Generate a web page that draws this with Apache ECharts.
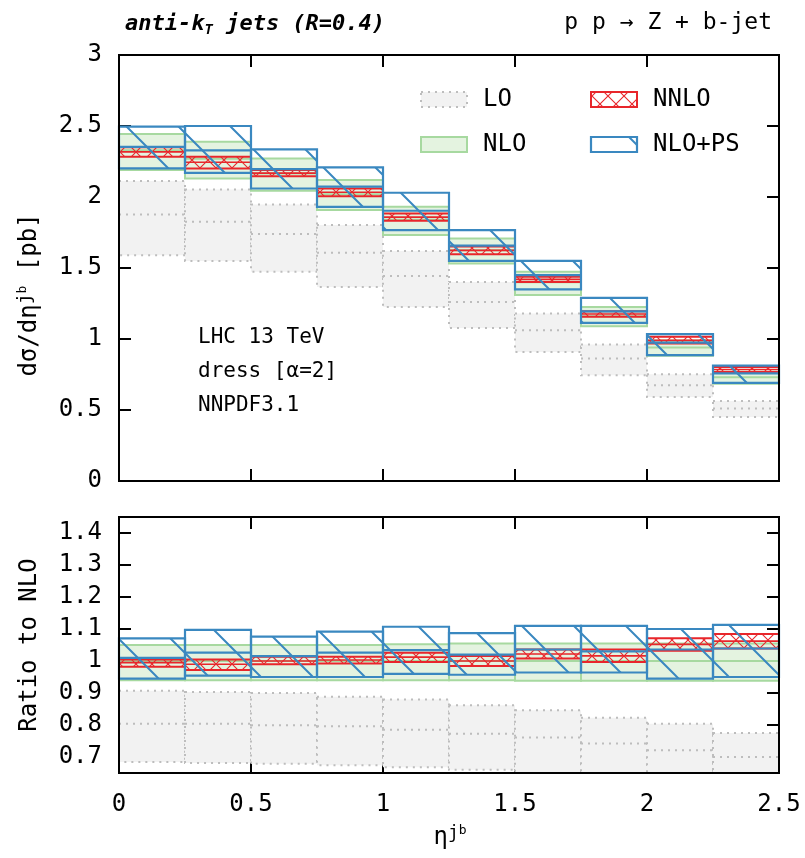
<!DOCTYPE html>
<html>
<head>
<meta charset="utf-8">
<script src="https://cdn.jsdelivr.net/npm/echarts@6/dist/echarts.min.js"></script>
<style>
html,body{margin:0;padding:0;background:#fff;}
#chart{width:805px;height:858px;}
</style>
</head>
<body>
<div id="chart"></div>
<script>
// ---- data (eta^{j_b} bins of width 0.25) ----
const binLow  = [0, 0.25, 0.5, 0.75, 1.0, 1.25, 1.5, 1.75, 2.0, 2.25];
const binHigh = [0.25, 0.5, 0.75, 1.0, 1.25, 1.5, 1.75, 2.0, 2.25, 2.5];

// top panel: dsigma/deta [pb]
const loCentral   = [1.877, 1.825, 1.739, 1.607, 1.443, 1.261, 1.062, 0.863, 0.674, 0.510];
const loLow       = [1.590, 1.550, 1.473, 1.367, 1.226, 1.078, 0.909, 0.745, 0.592, 0.451];
const loHigh      = [2.112, 2.053, 1.948, 1.802, 1.619, 1.402, 1.180, 0.961, 0.752, 0.564];
const nloCentral  = [2.330, 2.270, 2.165, 2.020, 1.840, 1.625, 1.400, 1.160, 0.940, 0.730];
const nloLow      = [2.190, 2.131, 2.044, 1.908, 1.732, 1.532, 1.309, 1.090, 0.882, 0.685];
const nloHigh     = [2.443, 2.389, 2.272, 2.119, 1.931, 1.708, 1.473, 1.226, 0.990, 0.770];
const nnloCentral = [2.318, 2.245, 2.168, 2.033, 1.858, 1.624, 1.420, 1.176, 0.990, 0.785];
const nnloLow     = [2.283, 2.200, 2.147, 2.006, 1.832, 1.596, 1.402, 1.156, 0.968, 0.768];
const nnloHigh    = [2.350, 2.283, 2.190, 2.060, 1.884, 1.652, 1.438, 1.196, 1.015, 0.803];
const psCentral   = [2.353, 2.329, 2.197, 2.073, 1.903, 1.658, 1.450, 1.195, 0.974, 0.758];
const psLow       = [2.201, 2.170, 2.060, 1.931, 1.767, 1.550, 1.349, 1.113, 0.886, 0.691];
const psHigh      = [2.495, 2.500, 2.335, 2.209, 2.030, 1.767, 1.550, 1.290, 1.034, 0.813];

// bottom panel: ratio to NLO
const rLoCentral   = [0.804, 0.804, 0.799, 0.796, 0.785, 0.773, 0.761, 0.742, 0.721, 0.700];
const rLoLow       = [0.684, 0.681, 0.679, 0.674, 0.668, 0.660, 0.650, 0.640, 0.630, 0.620];
const rLoHigh      = [0.907, 0.903, 0.900, 0.888, 0.880, 0.862, 0.846, 0.823, 0.804, 0.775];
const rNloCentral  = [1.000, 1.000, 1.000, 1.000, 1.000, 1.000, 1.000, 1.000, 1.000, 1.000];
const rNloLow      = [0.940, 0.940, 0.940, 0.940, 0.940, 0.940, 0.938, 0.938, 0.938, 0.938];
const rNloHigh     = [1.050, 1.050, 1.050, 1.050, 1.052, 1.055, 1.055, 1.055, 1.055, 1.055];
const rNnloCentral = [0.995, 0.990, 1.000, 1.003, 1.012, 1.000, 1.022, 1.016, 1.052, 1.062];
const rNnloLow     = [0.982, 0.972, 0.990, 0.992, 0.997, 0.984, 1.008, 0.997, 1.032, 1.039];
const rNnloHigh    = [1.005, 1.005, 1.013, 1.013, 1.026, 1.016, 1.036, 1.036, 1.071, 1.084];
const rPsCentral   = [1.010, 1.026, 1.015, 1.026, 1.034, 1.020, 1.036, 1.030, 1.036, 1.039];
const rPsLow       = [0.945, 0.954, 0.950, 0.950, 0.960, 0.957, 0.964, 0.964, 0.945, 0.950];
const rPsHigh      = [1.071, 1.097, 1.076, 1.092, 1.107, 1.087, 1.110, 1.110, 1.100, 1.113];

const xTicks = [0, 0.5, 1, 1.5, 2, 2.5];
const topYTicks = [0, 0.5, 1, 1.5, 2, 2.5, 3];
const ratioYTicks = [0.7, 0.8, 0.9, 1.0, 1.1, 1.2, 1.3, 1.4];

// ---- styles ----
const FONT = 'DejaVu Sans Mono';
const RED = '#e8262b', BLUE = '#3a88c0', GREEN = '#a7d9a0', GREENFILL = '#e4f3e0';
const LOFILL = '#f2f2f2', LOLINE = '#bdbdbd';

function diagCanvas(size, color, lw) {
  const c = document.createElement('canvas');
  c.width = size; c.height = size;
  const g = c.getContext('2d');
  g.strokeStyle = color; g.lineWidth = lw;
  g.beginPath();
  g.moveTo(-size, -size); g.lineTo(2 * size, 2 * size);
  g.moveTo(0, -size); g.lineTo(2 * size, size);
  g.moveTo(-size, 0); g.lineTo(size, 2 * size);
  g.stroke();
  return c;
}
function crossCanvas(size, color, lw) {
  const c = document.createElement('canvas');
  c.width = size; c.height = size;
  const g = c.getContext('2d');
  g.strokeStyle = color; g.lineWidth = lw;
  g.beginPath();
  g.moveTo(-1, -1); g.lineTo(size + 1, size + 1);
  g.moveTo(size + 1, -1); g.lineTo(-1, size + 1);
  g.stroke();
  return c;
}
const psPattern = { image: diagCanvas(52, BLUE, 2), repeat: 'repeat' };
const nnloPattern = { image: crossCanvas(16, RED, 1.1), repeat: 'repeat' };

const STY = {
  lo:   { fill: LOFILL, stroke: LOLINE, lw: 2, dash: [2, 5], cstroke: LOLINE, clw: 2, cdash: [2, 5] },
  nlo:  { fill: GREENFILL, stroke: GREEN, lw: 2, dash: null, cstroke: GREEN, clw: 2, cdash: null },
  nnlo: { fill: nnloPattern, stroke: RED, lw: 2, dash: null, cstroke: RED, clw: 1.6, cdash: null },
  ps:   { fill: psPattern, stroke: BLUE, lw: 2.2, dash: null, cstroke: BLUE, clw: 2.2, cdash: null }
};

function rows(lo, hi, c) {
  return binLow.map((x0, i) => [x0, binHigh[i], lo[i], hi[i], c[i]]);
}

function bandRenderer(s) {
  return function (params, api) {
    const x0 = api.value(0), x1 = api.value(1);
    const lo = api.value(2), hi = api.value(3), c = api.value(4);
    const p0 = api.coord([x0, hi]);
    const p1 = api.coord([x1, lo]);
    const cs = params.coordSys;
    const r = echarts.graphic.clipRectByRect(
      { x: p0[0], y: p0[1], width: p1[0] - p0[0], height: p1[1] - p0[1] },
      { x: cs.x, y: cs.y, width: cs.width, height: cs.height });
    const pc0 = api.coord([x0, c]), pc1 = api.coord([x1, c]);
    const children = [];
    if (r) {
      children.push({ type: 'rect', shape: r,
        style: { fill: s.fill, stroke: s.stroke, lineWidth: s.lw, lineDash: s.dash } });
    }
    children.push({ type: 'line',
      shape: { x1: pc0[0], y1: pc0[1], x2: pc1[0], y2: pc1[1] },
      style: { stroke: s.cstroke, lineWidth: s.clw, lineDash: s.cdash } });
    return { type: 'group', children: children };
  };
}

function band(name, key, gridIdx, lo, hi, c) {
  return {
    name: name, type: 'custom', xAxisIndex: gridIdx * 2, yAxisIndex: gridIdx * 2,
    renderItem: bandRenderer(STY[key]), data: rows(lo, hi, c),
    encode: { x: [0, 1], y: [2, 3, 4] }, silent: true, animation: false
  };
}

const tickStyle = { show: true, inside: true, length: 12, lineStyle: { color: '#000', width: 2 } };
const labelFont = { fontFamily: FONT, fontSize: 24, color: '#000' };

function xAx(grid, pos, showLabels) {
  return {
    type: 'value', gridIndex: grid, position: pos, min: 0, max: 2.5,
    axisLine: { show: false, onZero: false },
    axisTick: Object.assign({}, tickStyle, { customValues: xTicks }),
    axisLabel: Object.assign({ show: showLabels, margin: 20, customValues: xTicks,
      showMinLabel: true, showMaxLabel: true }, labelFont),
    splitLine: { show: false }
  };
}
function yAx(grid, pos, min, max, ticks, showLabels) {
  return {
    type: 'value', gridIndex: grid, position: pos, min: min, max: max,
    axisLine: { show: false, onZero: false },
    axisTick: Object.assign({}, tickStyle, { customValues: ticks }),
    axisLabel: Object.assign({ show: showLabels, margin: 17, customValues: ticks,
      showMinLabel: true, showMaxLabel: true }, labelFont),
    splitLine: { show: false }
  };
}

const chart = echarts.init(document.getElementById('chart'));

const option = {
  backgroundColor: '#fff',
  animation: false,
  grid: [
    { left: 119, right: 26, top: 55, height: 426, show: true, borderColor: '#000', borderWidth: 2, backgroundColor: 'transparent', z: 10 },
    { left: 119, right: 26, top: 517, height: 256, show: true, borderColor: '#000', borderWidth: 2, backgroundColor: 'transparent', z: 10 }
  ],
  xAxis: [
    xAx(0, 'bottom', false), xAx(0, 'top', false),
    xAx(1, 'bottom', true), xAx(1, 'top', false)
  ],
  yAxis: [
    yAx(0, 'left', 0, 3, topYTicks, true), yAx(0, 'right', 0, 3, topYTicks, false),
    yAx(1, 'left', 0.65, 1.45, ratioYTicks, true), yAx(1, 'right', 0.65, 1.45, ratioYTicks, false)
  ],
  series: [
    band('LO', 'lo', 0, loLow, loHigh, loCentral),
    band('NLO', 'nlo', 0, nloLow, nloHigh, nloCentral),
    band('NNLO', 'nnlo', 0, nnloLow, nnloHigh, nnloCentral),
    band('NLO+PS', 'ps', 0, psLow, psHigh, psCentral),
    band('LO', 'lo', 1, rLoLow, rLoHigh, rLoCentral),
    band('NLO', 'nlo', 1, rNloLow, rNloHigh, rNloCentral),
    band('NNLO', 'nnlo', 1, rNnloLow, rNnloHigh, rNnloCentral),
    band('NLO+PS', 'ps', 1, rPsLow, rPsHigh, rPsCentral)
  ],
  graphic: [
    // header
    { type: 'text', left: 125, top: 13, z: 20, style: {
        text: '{b|anti-k}{s|T}{b| jets (R=0.4)}',
        rich: {
          b: { fontFamily: FONT, fontSize: 22, fontWeight: 'bold', fontStyle: 'italic', fill: '#000' },
          s: { fontFamily: FONT, fontSize: 14, fontWeight: 'bold', fontStyle: 'italic', fill: '#000', verticalAlign: 'bottom', padding: [12, 0, 0, 0] }
        } } },
    { type: 'text', right: 33, top: 12, z: 20, style: {
        text: 'p p → Z + b-jet', fontFamily: FONT, fontSize: 23, fill: '#000' } },
    // y-axis titles
    { type: 'text', x: 30, y: 295, rotation: Math.PI / 2, z: 20, style: {
        text: '{n|dσ/dη}{p|j}{q|b}{n| [pb]}', align: 'center', verticalAlign: 'middle',
        rich: {
          n: { fontFamily: FONT, fontSize: 24, fill: '#000' },
          p: { fontFamily: FONT, fontSize: 18, fill: '#000', verticalAlign: 'top', padding: [0, 0, 10, 0] },
          q: { fontFamily: FONT, fontSize: 13, fill: '#000', verticalAlign: 'top', padding: [0, 0, 8, 0] }
        } } },
    { type: 'text', x: 30, y: 645, rotation: Math.PI / 2, z: 20, style: {
        text: 'Ratio to NLO', align: 'center', verticalAlign: 'middle',
        fontFamily: FONT, fontSize: 24, fill: '#000' } },
    // x-axis title
    { type: 'text', x: 450, y: 838, z: 20, style: {
        text: '{n|η}{p|j}{q|b}', align: 'center', verticalAlign: 'middle',
        rich: {
          n: { fontFamily: FONT, fontSize: 24, fill: '#000' },
          p: { fontFamily: FONT, fontSize: 18, fill: '#000', verticalAlign: 'top', padding: [0, 0, 10, 0] },
          q: { fontFamily: FONT, fontSize: 13, fill: '#000', verticalAlign: 'top', padding: [0, 0, 8, 0] }
        } } },
    // annotation
    { type: 'text', left: 198, top: 321, z: 20, style: {
        text: 'LHC 13 TeV\ndress [α=2]\nNNPDF3.1', fontFamily: FONT, fontSize: 21,
        lineHeight: 34, fill: '#000' } },
    // legend
    { type: 'rect', shape: { x: 421, y: 92, width: 46, height: 15 }, z: 20,
      style: { fill: LOFILL, stroke: LOLINE, lineWidth: 2, lineDash: [2, 5] } },
    { type: 'text', left: 483, top: 88, z: 20, style: { text: 'LO', fontFamily: FONT, fontSize: 24, fill: '#000' } },
    { type: 'rect', shape: { x: 421, y: 137, width: 46, height: 15 }, z: 20,
      style: { fill: GREENFILL, stroke: GREEN, lineWidth: 2 } },
    { type: 'text', left: 483, top: 133, z: 20, style: { text: 'NLO', fontFamily: FONT, fontSize: 24, fill: '#000' } },
    { type: 'rect', shape: { x: 591, y: 92, width: 46, height: 15 }, z: 20,
      style: { fill: nnloPattern, stroke: RED, lineWidth: 2 } },
    { type: 'text', left: 653, top: 88, z: 20, style: { text: 'NNLO', fontFamily: FONT, fontSize: 24, fill: '#000' } },
    { type: 'rect', shape: { x: 591, y: 137, width: 46, height: 15 }, z: 20,
      style: { fill: '#fff', stroke: BLUE, lineWidth: 2.2 } },
    { type: 'line', shape: { x1: 629, y1: 137, x2: 637, y2: 145 }, z: 21,
      style: { stroke: BLUE, lineWidth: 2 } },
    { type: 'text', left: 653, top: 133, z: 20, style: { text: 'NLO+PS', fontFamily: FONT, fontSize: 24, fill: '#000' } }
  ]
};
chart.setOption(option);
</script>
</body>
</html>
